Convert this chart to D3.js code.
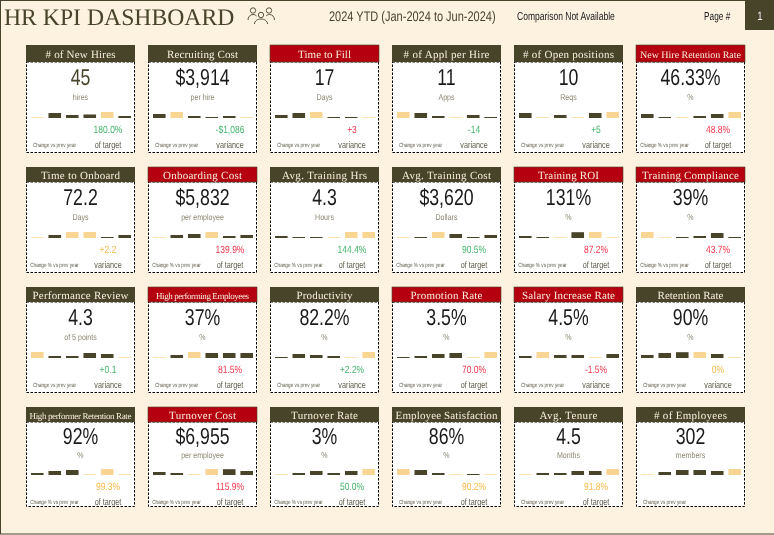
<!DOCTYPE html>
<html><head><meta charset="utf-8">
<script src="https://cdn.jsdelivr.net/npm/d3@7"></script>
<style>html,body{margin:0;padding:0;background:#FDF2E0}svg{display:block}#c{will-change:transform}text{text-rendering:geometricPrecision}</style>
</head><body><svg id="c" width="774" height="535"></svg>
<script>
const titles=["# of New Hires","Recruiting Cost","Time to Fill","# of Appl per Hire","# of Open positions","New Hire Retention Rate","Time to Onboard","Onboarding Cost","Avg. Training Hrs","Avg. Training Cost","Training ROI","Training Compliance","Performance Review","High performing Employees","Productivity","Promotion Rate","Salary Increase Rate","Retention Rate","High performer Retention Rate","Turnover Cost","Turnover Rate","Employee Satisfaction","Avg. Tenure","# of Employees"];
const kpis=["45","$3,914","17","11","10","46.33%","72.2","$5,832","4.3","$3,620","131%","39%","4.3","37%","82.2%","3.5%","4.5%","90%","92%","$6,955","3%","86%","4.5","302"];
const units=["hires","per hire","Days","Apps","Reqs","%","Days","per employee","Hours","Dollars","%","%","of 5 points","%","%","%","%","%","%","per employee","%","%","Months","members"];
const deltas=["180.0%","-$1,086","+3","-14","+5","48.8%","+2.2","139.9%","144.4%","90.5%","87.2%","43.7%","+0.1","81.5%","+2.2%","70.0%","-1.5%","0%","99.3%","115.9%","50.0%","90.2%","91.8%",""];
const deltaKinds=["of target","variance","variance","variance","variance","of target","variance","of target","of target","of target","of target","of target","variance","of target","variance","of target","variance","variance","of target","of target","of target","of target","of target",""];
const status=["g","g","r","g","g","r","a","r","g","g","r","r","g","r","g","r","r","a","a","r","g","a","a",""];
const alertHeader=[0,0,1,0,0,1,0,1,0,0,1,1,0,1,0,1,1,0,0,1,0,0,0,0];
const changeLabels=["Change vs prev year","Change % vs prev year"];
const changeLabelKind=[0,0,0,0,0,1,1,1,1,1,1,1,0,0,0,0,0,0,1,1,1,0,0,0];
const months=["Jan","Feb","Mar","Apr","May","Jun"];
const monthly=[
[.7,5,3,3.5,6,2],[4,6,2,1,2,.7],[3,5,6,1,1,.7],[6,5,2,.7,3,1],[5,.7,3,.7,5,6],[4,1,.7,2,4,6],
[.7,3,6,6,1,3],[.7,3,4,6,2,3],[2,1,1,.7,6,6],[.7,1,6,4,1,3],[2,1,.7,5.8,6,.7],[6,.7,1,2,5,1],
[6,2,2,5,4,.7],[.7,3,6,5,5,5],[1,4,3,2,.7,6],[1,2,4,5,.7,6],[2,6,3,3,.7,4],[3,5,5.8,6,4,.7],
[2,4,5,.7,6,.7],[3,2,.7,6,5.8,4],[.7,2,4,2,4,6],[6,5,2,.7,1,.7],[.7,2,2,4,4,6],[.7,3,5,5,4,6]];
const titleWidths=[70,71,53,86,91,101,79,79,85,89,61,97,96,93,56,72,93,66,102,67,67,102,58,73];
const colLefts=[26,148,270,392,514,636];
const rowTops=[45,167,287,407];
const rowHeader=[17,15,15,15];
const rowBottoms=[152,272,392,506];
const rowBase=[118,238,358,475];
const rowKpi=[85,205,325,444];
const rowUnit=[100,220,340,458];
const DARK="#48442A",RED="#B50010",LIGHT="#F9D594",BG="#FDF2E0";
const statusCol={g:"#45B46E",r:"#F2384F",a:"#F9B94A"};
const SANS="'Liberation Sans',sans-serif",SERIF="'Liberation Serif',serif";
const svg=d3.select("#c");
svg.append("rect").attr("x",.5).attr("y",.5).attr("width",800).attr("height",533.5).attr("fill",BG).attr("stroke",DARK);
svg.append("rect").attr("x",745).attr("y",0).attr("width",29).attr("height",30).attr("fill",DARK);
const T=(x,y,s,size,fill,font,anchor="start",sx=1)=>svg.append("text").attr("transform",`translate(${x},${y}) scale(${sx},1)`).text(s).attr("font-size",size).attr("fill",fill).attr("font-family",font).attr("text-anchor",anchor);
T(4,25,"HR KPI DASHBOARD",23.7,DARK,SERIF);
T(329,21,"2024 YTD (Jan-2024 to Jun-2024)",14,DARK,SANS,"start",.785);
T(517,19.5,"Comparison Not Available",11.5,"#222",SANS,"start",.74);
T(704,19.5,"Page #",11.5,"#222",SANS,"start",.72);
T(760,20,"1",12,"#eee",SANS,"middle",.8);
// icon
const ic=svg.append("g").attr("fill","none").attr("stroke",DARK).attr("stroke-width",.9);
[[253,10.5,2.7],[269,10.5,2.7],[261,15,2.7]].forEach(([x,y,r])=>{ic.append("circle").attr("cx",x).attr("cy",y).attr("r",r);});
ic.append("path").attr("d","M248 20c0-3 2-5.500 5-5.500 1.500 0 2.500 .5 3.500 1.500M274.500 20c0-3-2-5.500-5-5.500-1.500 0-2.500 .5-3.500 1.500M254.500 24c0-3 3-5 6.500-5s6.500 2 6.500 5");
titles.forEach((title,i)=>{
 const c=i%6,r=Math.floor(i/6),x=colLefts[c],y=rowTops[r],w=109,h=rowHeader[r],base=rowBase[r],bot=rowBottoms[r],cx=x+54.5;
 svg.append("rect").attr("x",x+.5).attr("y",y+h).attr("width",w-1).attr("height",bot-y-h+.5).attr("fill","#fff").attr("stroke","#000").attr("stroke-dasharray","2.5 1.5");
 svg.append("rect").attr("x",x).attr("y",y).attr("width",w).attr("height",h).attr("fill",alertHeader[i]?RED:DARK).attr("stroke",DARK).attr("stroke-width",alertHeader[i]?.6:0);
 const fs=title.length>=25?9:title.length>=23?10:11;
 T(cx,y+h/2+4,title,fs,"#F6EEDC",SERIF,"middle").attr("textLength",titleWidths[i]).attr("lengthAdjust","spacing");
 T(cx,rowKpi[r],kpis[i],23,i==0?DARK:"#1a1a1a",SANS,"middle",.77);
 T(cx,rowUnit[r],units[i],8.5,"#8a8672",SANS,"middle",.83);
 const xs=d3.scaleBand().domain(months).range([x+5,x+105]).paddingInner(.28).paddingOuter(0);
 const ys=d3.scaleLinear().domain([0,6]).range([base,base-6]);
 const vals=monthly[i],mx=d3.max(vals),mn=d3.min(vals);
 svg.append("g").selectAll("rect").data(vals).join("rect")
  .attr("x",(d,j)=>xs(months[j])).attr("width",xs.bandwidth()).attr("y",d=>ys(d)).attr("height",d=>base-ys(d))
  .attr("fill",d=>(d===mx||d===mn)?LIGHT:DARK);
 if(deltas[i]) T(x+82,base+15,deltas[i],10.5,statusCol[status[i]],SANS,"middle",.81);
 if(deltaKinds[i]) T(x+82,base+30,deltaKinds[i],9.5,"#5d5a48",SANS,"middle",.76);
 T(x+28.5,base+29,changeLabels[changeLabelKind[i]],6,"#5d5a48",SANS,"middle",.78);
});
</script></body></html>
